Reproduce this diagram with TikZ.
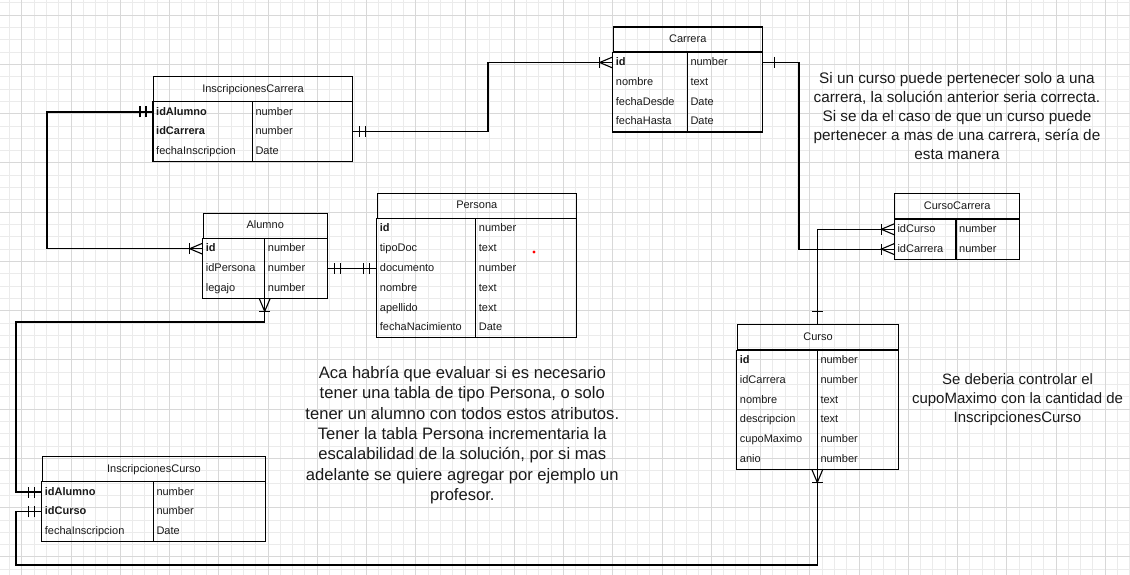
\documentclass[tikz,border=0pt]{standalone}
\usepackage{fontspec}
\setmainfont{Liberation Sans}
\usetikzlibrary{calc}
\definecolor{gridfine}{HTML}{EBEBEB}
\definecolor{gridmajor}{HTML}{D8D8D8}
\definecolor{txt}{HTML}{1A1A1A}
\tikzset{
  erline/.style={draw=black, line width=1.1pt},
  conn/.style={draw=black, line width=1.1pt},
  erhead/.style={draw=black, line width=1.1pt, inner sep=0pt, minimum height=24.8pt, text height=6.5pt, text depth=0pt, font=\fontsize{11}{13}\selectfont, text=txt},
  errow/.style={inner sep=0pt, minimum height=19.8pt, draw=none},
  ercell/.style={inner sep=0pt, text height=6.2pt, text depth=0pt, font=\fontsize{11}{13}\selectfont, text=txt},
  note/.style={align=center, inner sep=0pt, text=txt},
  ermany/.pic={\draw[conn] (0,-5.5) -- (13,0) -- (0,5.5); \draw[conn] (13,-5.5) -- (13,5.5);},
  ermand/.pic={\draw[conn] (7,-5.5) -- (7,5.5); \draw[conn] (13,-5.5) -- (13,5.5);},
  erone/.pic={\draw[conn] (12.5,-5.5) -- (12.5,5.5);},
}
% #1 name #2 left #3 top #4 width #5 divider offset #6 title #7 rows #8 row list
\newcommand\ertable[8]{%
  \node[erhead, minimum width=#4pt, anchor=north west] (#1) at (#2,#3) {#6};
  \foreach [count=\i] \k/\t in {#8} {%
    \node[errow, minimum width=#4pt, anchor=north west] (#1-\i) at ($(#1.south west)+(0,{(\i-1)*19.8})$) {};
    \node[ercell, anchor=west] at ([xshift=3pt]#1-\i.west) {\k};
    \node[ercell, anchor=west] at ([xshift=#5pt+3pt]#1-\i.west) {\t};
  }
  \draw[erline] (#1.south west) rectangle (#1-#7.south east);
  \draw[erline] ([xshift=#5pt]#1.south west) -- ([xshift=#5pt]#1-#7.south west);
}
\begin{document}
\begin{tikzpicture}[x=1pt,y=-1pt]
\useasboundingbox (0,0) rectangle (1130,575);
\fill[white] (0,0) rectangle (1130,575);
\begin{scope}
\clip (0,0) rectangle (1130,575);
\foreach \i in {-2,...,92} \draw[gridfine, line width=0.8pt] ({21.7+\i*12.3125},0) -- ({21.7+\i*12.3125},575);
\foreach \i in {-2,...,47} \draw[gridfine, line width=0.8pt] (0,{15.1+\i*12.3125}) -- (1130,{15.1+\i*12.3125});
\foreach \i in {-1,...,23} \draw[gridmajor, line width=0.9pt] ({21.7+\i*49.25},0) -- ({21.7+\i*49.25},575);
\foreach \i in {-1,...,12} \draw[gridmajor, line width=0.9pt] (0,{15.1+\i*49.25}) -- (1130,{15.1+\i*49.25});
\end{scope}

\ertable{ic}{153}{76}{199}{99.3}{InscripcionesCarrera}{3}{\textbf{idAlumno}/number, \textbf{idCarrera}/number, fechaInscripcion/Date}
\ertable{ca}{612.7}{26.5}{149}{74.6}{Carrera}{4}{\textbf{id}/number, nombre/text, fechaDesde/Date, fechaHasta/Date}
\ertable{al}{202.7}{212.7}{124}{62}{Alumno}{3}{\textbf{id}/number, idPersona/number, legajo/number}
\ertable{pe}{376.7}{192.7}{199}{99}{Persona}{6}{\textbf{id}/number, tipoDoc/text, documento/number, nombre/text, apellido/text, fechaNacimiento/Date}
\ertable{cc}{894.3}{193.3}{124.7}{61.7}{CursoCarrera}{2}{idCurso/number, idCarrera/number}
\ertable{cu}{736.7}{324.3}{161.6}{80.6}{Curso}{6}{\textbf{id}/number, idCarrera/number, nombre/text, descripcion/text, cupoMaximo/number, anio/number}
\ertable{icu}{41.7}{456}{223.3}{111.6}{InscripcionesCurso}{3}{\textbf{idAlumno}/number, \textbf{idCurso}/number, fechaInscripcion/Date}

% connectors
\coordinate (j1) at (47,0);
\draw[conn] (ic-1.west) -- (ic-1.west -| j1) |- (al-1.west);
\coordinate (j2) at (488,0);
\draw[conn] (ic-2.east) -- (ic-2.east -| j2) |- (ca-1.west);
\coordinate (j3) at (799,0);
\draw[conn] (ca-1.east) -- (ca-1.east -| j3) |- (cc-2.west);
\draw[conn] (al-2.east) -- (al-2.east -| pe-3.west);
\coordinate (alb) at ([xshift=62pt]al-3.south west);
\coordinate (j4) at (16,322);
\draw[conn] (alb) |- (j4) |- (icu-1.west);
\coordinate (j5) at (16,565);
\coordinate (cub) at ([xshift=80.6pt]cu-6.south west);
\draw[conn] (icu-2.west) -| (j5) -| (cub);
\coordinate (cut) at ([xshift=80.6pt]cu.north west);
\draw[conn] (cut) |- (cc-1.west);

% end markers
\pic[rotate=180] at (ic-1.west) {ermand};
\pic[rotate=180] at (al-1.west) {ermany};
\pic at (ic-2.east) {ermand};
\pic[rotate=180] at (ca-1.west) {ermany};
\pic at (ca-1.east) {erone};
\pic[rotate=180] at (cc-2.west) {ermany};
\pic at (al-2.east) {ermand};
\pic[rotate=180] at (al-2.east -| pe-3.west) {ermand};
\pic[rotate=-90] at (alb) {ermany};
\pic[rotate=180] at (icu-1.west) {ermand};
\pic[rotate=180] at (icu-2.west) {ermand};
\pic[rotate=-90] at (cub) {ermany};
\pic[rotate=90] at (cut) {erone};
\pic[rotate=180] at (cc-1.west) {ermany};

\fill[red] (534,252) circle (1.6pt);

% notes
\node[note, font=\fontsize{16.6}{20.3}\selectfont] (n1) at (462.3,435.2) {Aca habría que evaluar si es necesario\\tener una tabla de tipo Persona, o solo\\tener un alumno con todos estos atributos.\\Tener la tabla Persona incrementaria la\\escalabilidad de la solución, por si mas\\adelante se quiere agregar por ejemplo un\\profesor.};
\node[note, font=\fontsize{15.3}{19}\selectfont] (n2) at (957,116.5) {Si un curso puede pertenecer solo a una\\carrera, la solución anterior seria correcta.\\Si se da el caso de que un curso puede\\pertenecer a mas de una carrera, sería de\\esta manera};
\node[note, font=\fontsize{15}{18.8}\selectfont] (n3) at (1017.5,399.5) {Se deberia controlar el\\cupoMaximo con la cantidad de\\InscripcionesCurso};
\end{tikzpicture}
\end{document}
